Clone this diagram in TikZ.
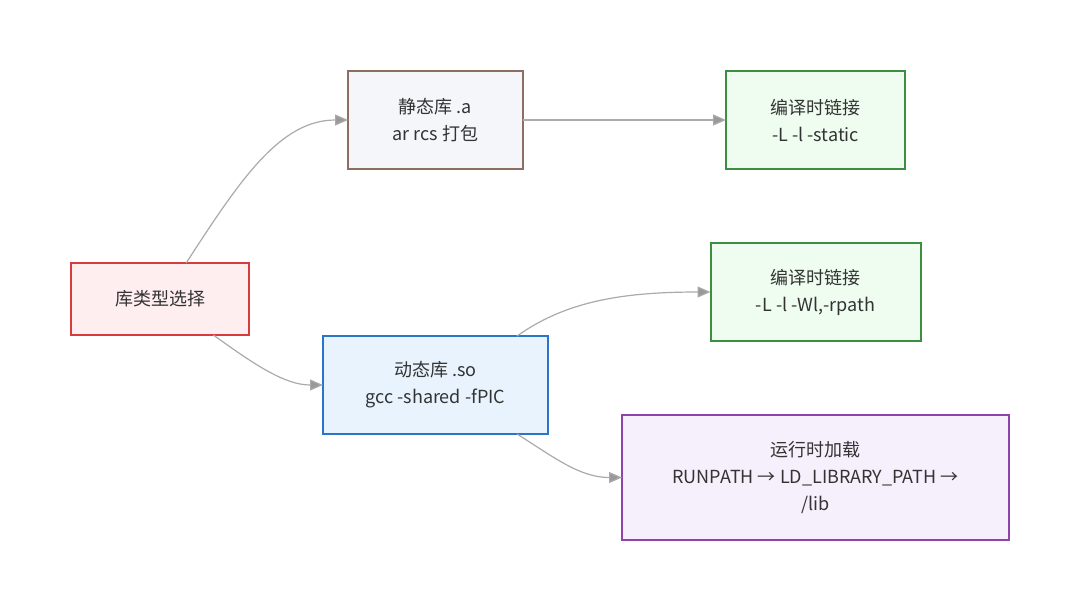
\documentclass[tikz,border=0pt]{standalone}
\usepackage{fontspec}
\setmainfont{Noto Sans CJK SC}
\usetikzlibrary{positioning, arrows.meta}

\definecolor{redline}{HTML}{D63B3E}
\definecolor{redfill}{HTML}{FFEEEF}
\definecolor{brownline}{HTML}{8D6E63}
\definecolor{brownfill}{HTML}{F5F6FA}
\definecolor{greenline}{HTML}{3C8F40}
\definecolor{greenfill}{HTML}{EEFDEF}
\definecolor{blueline}{HTML}{2B75C9}
\definecolor{bluefill}{HTML}{E8F3FD}
\definecolor{purpleline}{HTML}{8E44AD}
\definecolor{purplefill}{HTML}{F6EFFC}
\definecolor{edgegray}{HTML}{AAAAAA}
\definecolor{textgray}{HTML}{333333}

\tikzset{
  box/.style={draw, line width=1pt, inner sep=0pt, outer sep=0pt, align=center,
    text=textgray, font=\fontsize{9}{13.5}\selectfont},
  choosebox/.style={box, draw=redline, fill=redfill, minimum width=89pt, minimum height=36pt},
  staticbox/.style={box, draw=brownline, fill=brownfill, minimum width=87.5pt, minimum height=49pt},
  linkbox/.style={box, draw=greenline, fill=greenfill, minimum height=49pt},
  dynbox/.style={box, draw=blueline, fill=bluefill, minimum width=112.5pt, minimum height=49pt},
  runbox/.style={box, draw=purpleline, fill=purplefill, minimum width=193.5pt, minimum height=62.5pt},
  flow/.style={draw=edgegray, line width=0.6pt, -{Triangle[length=6.5pt,width=5.5pt,fill=edgegray!90!black]}}
}

\begin{document}
\begin{tikzpicture}[x=0.5pt, y=-0.5pt]
    \useasboundingbox (0,0) rectangle (1080,612);

    \node [choosebox] (choose) at (160,299) {库类型选择};
    \node [staticbox] (static) at (435.5,120) {静态库 .a\\ar rcs 打包};
    \node [linkbox, minimum width=89.5pt, right=101.5pt of static] (linkA) {编译时链接\\-L -l -static};
    \node [dynbox, below=83.5pt of static] (dynamic) {动态库 .so\\gcc -shared -fPIC};
    \node [linkbox, minimum width=105pt, below=37pt of linkA] (linkB) {编译时链接\\-L -l -Wl,-rpath};
    \node [runbox, below=37pt of linkB] (runtime) {运行时加载\\RUNPATH → LD\_LIBRARY\_PATH →\\/lib};

    \draw [flow] (choose.54) .. controls (240,180) and (280,120) .. (static.west);
    \draw [flow] (choose.-34) .. controls (255,365) and (285,385) .. (dynamic.west);
    \draw [flow] (static.east) -- (linkA.west);
    \draw [flow] (dynamic.31) .. controls (565,302) and (620,292) .. (linkB.west);
    \draw [flow] (dynamic.-31) .. controls (555,458) and (580,477.5) .. (runtime.west);
\end{tikzpicture}
\end{document}
